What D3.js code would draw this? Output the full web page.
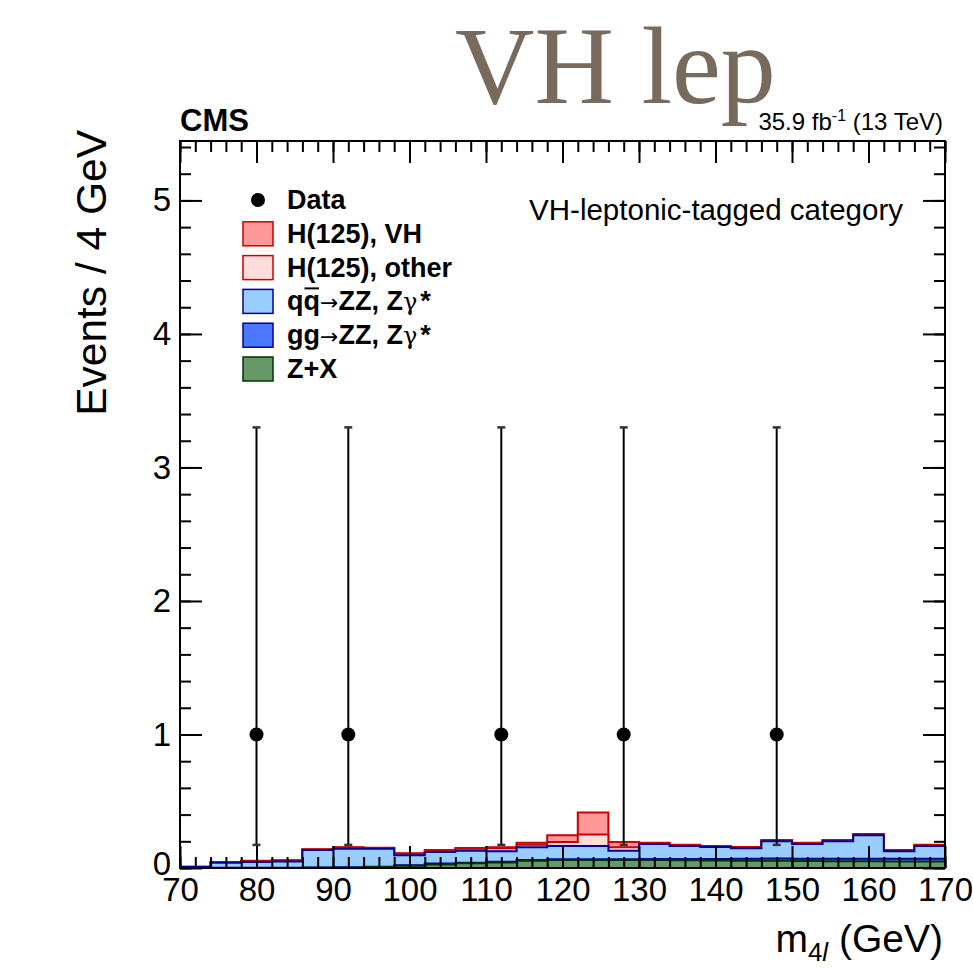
<!DOCTYPE html>
<html>
<head>
<meta charset="utf-8">
<script src="https://cdn.jsdelivr.net/npm/d3@7"></script>
<style>
body { margin: 0; background: #fff; }
text { font-family: "Liberation Sans", Arial, sans-serif; fill: #000; }
</style>
</head>
<body>
<div class="chart"></div>
<script>
// 4 GeV bins, low edges
const binLow = [70, 74, 78, 82, 86, 90, 94, 98, 102, 106, 110, 114, 118, 122, 126, 130, 134, 138, 142, 146, 150, 154, 158, 162, 166]
const binWidth = 4

// stacked backgrounds and signal, events per bin
const zx     = [0, 0, 0, 0, 0.001, 0.002, 0.007, 0.017, 0.027, 0.035, 0.042, 0.054, 0.06, 0.06, 0.06, 0.06, 0.058, 0.057, 0.055, 0.055, 0.052, 0.05, 0.05, 0.048, 0.048]
const ggzz   = [0, 0.002, 0.002, 0.002, 0.003, 0.003, 0.003, 0.004, 0.006, 0.005, 0.004, 0.005, 0.005, 0.006, 0.006, 0.008, 0.01, 0.011, 0.014, 0.016, 0.018, 0.02, 0.02, 0.022, 0.022]
const qqzz   = [0.008, 0.038, 0.043, 0.046, 0.131, 0.14, 0.135, 0.074, 0.087, 0.09, 0.079, 0.096, 0.1, 0.099, 0.064, 0.112, 0.097, 0.09, 0.079, 0.129, 0.11, 0.13, 0.175, 0.055, 0.095]
const hOther = [0.001, 0.004, 0.008, 0.008, 0.004, 0.008, 0.005, 0.012, 0.012, 0.015, 0.022, 0.02, 0.03, 0.085, 0.025, 0.006, 0.006, 0.004, 0.006, 0.006, 0.006, 0.006, 0.006, 0.006, 0.006]
const hVH    = [0.001, 0.001, 0.002, 0.002, 0.001, 0.002, 0.002, 0.003, 0.003, 0.005, 0.008, 0.015, 0.05, 0.165, 0.04, 0.004, 0.004, 0.003, 0.004, 0.004, 0.004, 0.004, 0.004, 0.004, 0.004]

// observed events with Poisson intervals
const dataMass = [80, 92, 112, 128, 148]
const dataCount = [1, 1, 1, 1, 1]
const dataLow = [0.173, 0.173, 0.173, 0.173, 0.173]
const dataHigh = [3.3, 3.3, 3.3, 3.3, 3.3]

const xTicks = [70, 80, 90, 100, 110, 120, 130, 140, 150, 160, 170]
const yTicks = [0, 1, 2, 3, 4, 5]

const layers = [
	{key: "zx", name: "Z+X", fill: "#669966", line: "#003300"},
	{key: "gg", name: "gg", fill: "#4b78ff", line: "#000099"},
	{key: "qq", name: "qq", fill: "#99ccff", line: "#000099"},
	{key: "other", name: "H(125), other", fill: "#ffdddd", line: "#cc0000"},
	{key: "vh", name: "H(125), VH", fill: "#ff9999", line: "#cc0000"}
]

let width = 973
let height = 980
let x0 = 180, x1 = 945, y0 = 141, y1 = 868

let svg = d3.select(".chart").append("svg")
	.attr("width", width)
	.attr("height", height)

let xScale = d3.scaleLinear().domain([70, 170]).range([x0, x1])
let yScale = d3.scaleLinear().domain([0, 5.445]).range([y1, y0])

function setupChart() {
	let rows = binLow.map((b, i) => ({
		x: b, zx: zx[i], gg: ggzz[i], qq: qqzz[i], other: hOther[i], vh: hVH[i]
	}))
	// repeat last bin so the step closes at the upper edge
	rows.push(Object.assign({}, rows[rows.length - 1], {x: binLow[binLow.length - 1] + binWidth}))

	let stack = d3.stack().keys(layers.map(l => l.key))
	let series = stack(rows)

	let area = d3.area()
		.curve(d3.curveStepAfter)
		.x(d => xScale(d.data.x))
		.y0(d => yScale(d[0]))
		.y1(d => yScale(d[1]))

	let topLine = d3.line()
		.curve(d3.curveStepAfter)
		.x(d => xScale(d.data.x))
		.y(d => yScale(d[1]))

	let hist = svg.append("g")
	// draw from the top of the stack down, like THStack
	series.slice().reverse().forEach(s => {
		let l = layers.find(a => a.key == s.key)
		hist.append("path")
			.attr("d", area(s))
			.attr("fill", l.fill)
		hist.append("path")
			.attr("d", topLine(s))
			.attr("fill", "none")
			.attr("stroke", l.line)
			.attr("stroke-width", 2)
	})

	// axes, ticks inside on all four sides
	let minorX = d3.range(70, 171, 2)
	let minorY = d3.range(0, 5.45, 0.2)

	let bottomMinor = svg.append("g").attr("transform", "translate(0," + y1 + ")")
		.call(d3.axisBottom(xScale).tickValues(minorX).tickSize(-11).tickFormat(""))
	let bottomMajor = svg.append("g").attr("class", "xaxis").attr("transform", "translate(0," + y1 + ")")
		.call(d3.axisBottom(xScale).tickValues(xTicks).tickSize(-22).tickPadding(10).tickFormat(d3.format("d")))
	let topMinor = svg.append("g").attr("transform", "translate(0," + y0 + ")")
		.call(d3.axisTop(xScale).tickValues(minorX).tickSize(-11).tickFormat(""))
	let topMajor = svg.append("g").attr("transform", "translate(0," + y0 + ")")
		.call(d3.axisTop(xScale).tickValues(xTicks).tickSize(-22).tickFormat(""))
	let leftMinor = svg.append("g").attr("transform", "translate(" + x0 + ",0)")
		.call(d3.axisLeft(yScale).tickValues(minorY).tickSize(-11).tickFormat(""))
	let leftMajor = svg.append("g").attr("class", "yaxis").attr("transform", "translate(" + x0 + ",0)")
		.call(d3.axisLeft(yScale).tickValues(yTicks).tickSize(-22).tickPadding(9).tickFormat(d3.format("d")))
	let rightMinor = svg.append("g").attr("transform", "translate(" + x1 + ",0)")
		.call(d3.axisRight(yScale).tickValues(minorY).tickSize(-11).tickFormat(""))
	let rightMajor = svg.append("g").attr("transform", "translate(" + x1 + ",0)")
		.call(d3.axisRight(yScale).tickValues(yTicks).tickSize(-22).tickFormat(""))

	for (let g of [bottomMinor, bottomMajor, topMinor, topMajor, leftMinor, leftMajor, rightMinor, rightMajor]) {
		g.select(".domain").remove()
		g.selectAll("line").attr("stroke", "#000").attr("stroke-width", 2)
		g.selectAll("text")
			.attr("font-family", "'Liberation Sans', Arial, sans-serif")
			.attr("font-size", 33)
			.attr("fill", "#000")
	}
	// the zero sits a bit higher so it clears the 70
	leftMajor.selectAll(".tick text").filter(d => d == 0).attr("dy", "0.2em")

	svg.append("rect")
		.attr("x", x0)
		.attr("y", y0)
		.attr("width", x1 - x0)
		.attr("height", y1 - y0)
		.attr("fill", "none")
		.attr("stroke", "#000")
		.attr("stroke-width", 2)

	// data points with asymmetric errors
	let pts = dataMass.map((m, i) => ({m: m, n: dataCount[i], lo: dataLow[i], hi: dataHigh[i]}))
	let dg = svg.append("g")
	dg.selectAll("line.err")
		.data(pts)
		.enter()
		.append("line")
			.attr("class", "err")
			.attr("x1", d => xScale(d.m))
			.attr("x2", d => xScale(d.m))
			.attr("y1", d => yScale(d.lo))
			.attr("y2", d => yScale(d.hi))
			.attr("stroke", "#000")
			.attr("stroke-width", 2)
	for (let end of ["lo", "hi"]) {
		dg.selectAll("line.cap-" + end)
			.data(pts)
			.enter()
			.append("line")
				.attr("x1", d => xScale(d.m) - 4)
				.attr("x2", d => xScale(d.m) + 4)
				.attr("y1", d => yScale(d[end]))
				.attr("y2", d => yScale(d[end]))
				.attr("stroke", "#333")
				.attr("stroke-width", 2.5)
	}
	dg.selectAll("circle")
		.data(pts)
		.enter()
		.append("circle")
			.attr("cx", d => xScale(d.m))
			.attr("cy", d => yScale(d.n))
			.attr("r", 7)
			.attr("fill", "#000")

	// legend
	let lg = svg.append("g").attr("transform", "translate(243,200)")
	let legendRows = [{name: "Data", data: true}].concat(layers.slice().reverse())
	legendRows.forEach((r, i) => {
		let y = i * 33.8
		if (r.data) {
			lg.append("circle").attr("cx", 15).attr("cy", y).attr("r", 7).attr("fill", "#000")
		} else {
			lg.append("rect")
				.attr("x", 0).attr("y", y - 12)
				.attr("width", 30).attr("height", 24)
				.attr("fill", r.fill)
				.attr("stroke", r.line)
				.attr("stroke-width", 1.5)
		}
		let t = lg.append("text")
			.attr("x", 44)
			.attr("y", y + 9)
			.attr("font-size", 27)
			.attr("font-weight", "bold")
		if (r.key == "qq" || r.key == "gg") {
			t.append("tspan").text(r.name)
			t.append("tspan").attr("font-family", "'DejaVu Sans', sans-serif").attr("font-weight", "normal").attr("font-size", 22).text("→")
			t.append("tspan").text("ZZ, Z")
			t.append("tspan").attr("font-family", "'DejaVu Serif', serif").attr("font-weight", "normal").attr("font-size", 24).text("γ")
			t.append("tspan").attr("dx", 3).text("*")
			if (r.key == "qq") {
				// bar over the anti-quark
				let a = t.node().getStartPositionOfChar(1).x
				let b = t.node().getEndPositionOfChar(1).x
				lg.append("line")
					.attr("x1", a + 1).attr("x2", b - 1)
					.attr("y1", y - 13).attr("y2", y - 13)
					.attr("stroke", "#000").attr("stroke-width", 2)
			}
		} else {
			t.text(r.name)
		}
	})

	// labels
	svg.append("text")
		.attr("x", 455)
		.attr("y", 103)
		.style("font-family", "'Liberation Serif', 'Times New Roman', serif")
		.attr("font-size", 110)
		.style("fill", "#786a5c")
		.text("VH lep")

	svg.append("text")
		.attr("x", 180)
		.attr("y", 131)
		.attr("font-size", 31)
		.attr("font-weight", "bold")
		.text("CMS")

	let lumi = svg.append("text")
		.attr("x", 943)
		.attr("y", 130)
		.attr("text-anchor", "end")
		.attr("font-size", 24)
	lumi.append("tspan").text("35.9 fb")
	lumi.append("tspan").attr("font-size", 16).attr("dy", -9).text("-1")
	lumi.append("tspan").attr("dy", 9).text(" (13 TeV)")

	svg.append("text")
		.attr("x", 903)
		.attr("y", 220)
		.attr("text-anchor", "end")
		.attr("font-size", 29.5)
		.text("VH-leptonic-tagged category")

	svg.append("text")
		.attr("transform", "rotate(-90)")
		.attr("x", -130)
		.attr("y", 106)
		.attr("text-anchor", "end")
		.attr("font-size", 42.5)
		.text("Events / 4 GeV")

	let xl = svg.append("text")
		.attr("x", 943)
		.attr("y", 952)
		.attr("text-anchor", "end")
		.attr("font-size", 39)
	xl.append("tspan").text("m")
	xl.append("tspan").attr("font-size", 26).attr("dy", 9).text("4")
	xl.append("tspan").attr("font-size", 26).attr("font-style", "italic").text("l")
	xl.append("tspan").attr("dy", -9).text(" (GeV)")
}

setupChart()
</script>
</body>
</html>
